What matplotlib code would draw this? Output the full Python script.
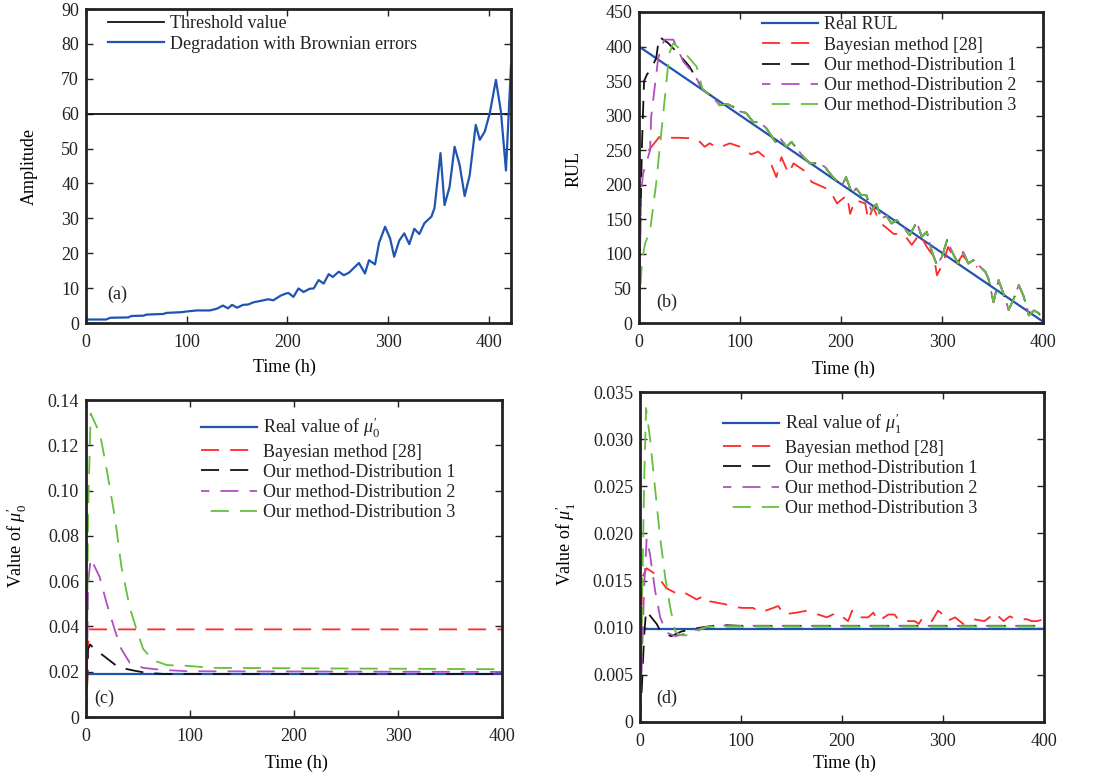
import matplotlib
matplotlib.use("Agg")
import matplotlib.pyplot as plt

plt.rcParams["font.family"] = ["Liberation Serif", "DejaVu Serif"]
plt.rcParams["mathtext.fontset"] = "custom"
plt.rcParams["mathtext.rm"] = "Liberation Serif"
plt.rcParams["mathtext.it"] = "Liberation Serif:italic"
plt.rcParams["lines.scale_dashes"] = False
plt.rcParams["text.color"] = "#222222"

# ---- data: (a) degradation ----
t_a = [0, 20, 24, 42, 45, 57, 60, 77, 80, 95, 100, 110, 123, 130, 136, 141, 145, 150, 156, 161,
       166, 176, 181, 186, 193, 198, 201, 206, 211, 216, 222, 226, 231, 236, 241, 245, 251, 256, 261, 271,
       277, 281, 287, 291, 297, 302, 306, 311, 316, 321, 326, 331, 336, 343, 346, 352, 356, 361, 366, 371,
       376, 381, 387, 391, 396, 401, 407, 412, 417, 422]
amp_a = [1.0, 1.0, 1.5, 1.6, 2.0, 2.1, 2.4, 2.6, 2.9, 3.1, 3.3, 3.6, 3.6, 4.1, 5.0, 4.2, 5.2, 4.4, 5.2, 5.3,
         5.9, 6.5, 6.8, 6.5, 7.8, 8.4, 8.6, 7.5, 9.9, 8.9, 9.8, 9.9, 12.3, 11.3, 14.0, 13.2, 14.7, 13.7, 14.4, 17.2,
         14.2, 18.0, 16.8, 23.0, 27.6, 24.2, 19.0, 23.6, 25.7, 22.6, 27.0, 25.5, 28.6, 30.5, 32.9, 48.7, 33.8, 39.0, 50.5, 45.3,
         36.4, 42.4, 56.8, 52.5, 54.9, 60.2, 69.7, 60.6, 43.7, 73.8]
threshold = 60

# ---- data: (b) RUL ----
t_real_b = [0, 400]
rul_real_b = [400, 2]
t_bayes_b = [0, 2, 7, 20, 27, 40, 57, 65, 70, 78, 90, 100, 111, 118, 130, 136, 141, 148, 153, 163,
             171, 182, 189, 196, 206, 209, 214, 224, 227, 232, 238, 248, 252, 262, 270, 278, 285, 292, 295, 301,
             306, 315, 320, 328, 335]
rul_bayes_b = [0, 236, 245, 269, 268, 268, 267, 255, 260, 253, 260, 255, 244, 248, 233, 211, 240, 216, 231, 221,
               204, 197, 192, 173, 185, 158, 178, 173, 149, 168, 146, 134, 129, 129, 113, 129, 110, 96, 69, 86,
               110, 86, 98, 86, 81]
t_tail_b = [63, 73, 80, 87, 93, 100, 106, 113, 120, 126, 135, 139, 146, 151, 163, 169, 177, 184, 192, 201,
            205, 211, 215, 220, 225, 230, 235, 240, 245, 250, 255, 262, 268, 275, 280, 285, 290, 295, 300, 305,
            311, 316, 321, 326, 331, 338, 343, 346, 351, 356, 361, 366, 371, 376, 381, 386, 391, 396, 400]
rul_tail_b = [338, 327, 315, 317, 313, 306, 304, 291, 290, 282, 262, 269, 255, 262, 240, 231, 231, 226, 211, 199,
              211, 187, 195, 185, 185, 163, 172, 151, 155, 144, 149, 139, 127, 146, 125, 132, 103, 84, 96, 120,
              100, 86, 103, 86, 91, 81, 74, 64, 30, 62, 42, 19, 35, 55, 38, 11, 18, 14, 2]
t_d1_b = [0, 1, 3, 5, 8, 11, 17, 20, 29, 40, 50]
rul_d1_b = [0, 120, 260, 350, 360, 365, 383, 414, 405, 388, 371]
t_d2_b = [0, 2, 4, 11, 12, 19, 25, 34, 44, 55]
rul_d2_b = [0, 187, 216, 250, 298, 383, 410, 410, 378, 359]
t_d3_b = [0, 1, 3, 6, 11, 17, 24, 30, 34, 47, 57]
rul_d3_b = [0, 40, 90, 115, 134, 202, 303, 390, 405, 388, 371]

# ---- data: (c) mu0' ----
t_real_c = [0, 400]
mu0_real = [0.019, 0.019]
t_bayes_c = [0, 1, 2, 3, 400]
mu0_bayes = [0, 0.012, 0.030, 0.0387, 0.0387]
t_d1_c = [0, 1, 2, 4, 8, 17, 31, 46, 58, 75, 400]
mu0_d1 = [0, 0.013, 0.030, 0.032, 0.030, 0.027, 0.022, 0.0205, 0.0195, 0.019, 0.019]
t_d2_c = [0, 1, 2, 4.5, 13, 20, 28, 34, 42, 55, 71, 97, 400]
mu0_d2 = [0, 0.02, 0.059, 0.070, 0.062, 0.050, 0.038, 0.030, 0.024, 0.0217, 0.0209, 0.0202, 0.0199]
t_d3_c = [0, 1, 2, 4.5, 13.5, 20, 28, 34, 42, 49, 55, 65, 78, 97, 122, 400]
mu0_d3 = [0, 0.03, 0.09, 0.134, 0.125, 0.109, 0.0876, 0.0665, 0.0485, 0.038, 0.030, 0.025, 0.0229, 0.0226, 0.0217, 0.0211]

# ---- data: (d) mu1' ----
t_real_d = [0, 400]
mu1_real = [0.0099, 0.0099]
t_bayes_d = [0, 2, 6.6, 16.5, 26, 35, 41, 56, 64, 69, 84, 93, 102, 112, 119, 137, 142, 155, 165, 185,
             195, 206, 210, 215, 226, 231, 236, 246, 252, 257, 272, 276, 280, 289, 295, 300, 304, 312, 320, 330,
             341, 346, 351, 360, 366, 373, 383, 388, 393, 400]
mu1_bayes = [0, 0.0153, 0.0163, 0.0156, 0.0142, 0.0137, 0.0139, 0.0130, 0.0134, 0.0128,
             0.0125, 0.0122, 0.0121, 0.0121, 0.0116, 0.0123, 0.0114, 0.0116, 0.0118, 0.0111,
             0.0116, 0.0107, 0.0118, 0.0111, 0.0111, 0.0116, 0.0107, 0.0114, 0.0114, 0.0107,
             0.0107, 0.0104, 0.0111, 0.0107, 0.0118, 0.0114, 0.0107, 0.0111, 0.0104, 0.0109,
             0.0107, 0.0111, 0.0116, 0.0107, 0.0112, 0.0109, 0.0109, 0.0107, 0.0107, 0.0109]
t_d1_d = [0, 2, 4, 6, 16.5, 21, 31, 41, 59, 79, 99, 400]
mu1_d1 = [0, 0.004, 0.009, 0.0118, 0.0104, 0.0095, 0.0091, 0.0096, 0.0100, 0.0103, 0.0102, 0.0102]
t_d2_d = [0, 2, 4, 6.6, 10, 15, 20, 26, 35, 46, 59, 76, 86, 400]
mu1_d2 = [0, 0.007, 0.014, 0.0195, 0.0177, 0.0139, 0.0111, 0.0095, 0.0091, 0.0094, 0.0099, 0.0103, 0.0102, 0.0102]
t_d3_d = [0, 1, 2, 4, 6, 10, 15, 20, 25, 30, 35, 40, 46, 56, 66, 86, 400]
mu1_d3 = [0, 0.005, 0.012, 0.025, 0.0333, 0.030, 0.0247, 0.0195, 0.0153, 0.0121, 0.0096, 0.0092, 0.0092,
          0.0096, 0.0101, 0.0101, 0.0101]

yt_c = [0, 0.02, 0.04, 0.06, 0.08, 0.10, 0.12, 0.14]
yt_c_lab = ["0", "0.02", "0.04", "0.06", "0.08", "0.10", "0.12", "0.14"]
yt_d = [0, 0.005, 0.010, 0.015, 0.020, 0.025, 0.030, 0.035]
yt_d_lab = ["0", "0.005", "0.010", "0.015", "0.020", "0.025", "0.030", "0.035"]

BLUE = "#1f55b0"
RED = "#ff2a2a"
PURPLE = "#b04fc0"
GREEN = "#66c03a"
BLACK = "#111111"
DASH = (13, 8)
FS = 13

fig = plt.figure(figsize=(10.97, 7.76), dpi=100)


def style(ax):
    for s in ax.spines.values():
        s.set_linewidth(2)
        s.set_color("#222222")
    ax.tick_params(direction="in", top=True, right=True, length=5, width=1,
                   labelsize=FS, colors="#222222")
    ax.tick_params(axis="x", pad=8)
    ax.tick_params(axis="y", pad=5)


def legend(ax, x, y):
    ax.legend(loc="upper left", bbox_to_anchor=(x, y), frameon=False, fontsize=FS,
              handlelength=3.1, handletextpad=0.35, labelspacing=0.18,
              borderpad=0, borderaxespad=0)


# (a)
ax = fig.add_axes([86 / 1097, 1 - 323 / 776, 425 / 1097, 314 / 776])
ax.axhline(threshold, color=BLACK, lw=1.3, label="Threshold value")
ax.plot(t_a, amp_a, color=BLUE, lw=1.6, label="Degradation with Brownian errors")
ax.set_xlim(0, 422)
ax.set_ylim(0, 90)
ax.set_xticks([0, 100, 200, 300, 400])
ax.set_yticks(range(0, 91, 10))
style(ax)
ax.set_xlabel("Time (h)", fontsize=FS)
ax.set_ylabel("Amplitude", fontsize=FS)
ax.xaxis.set_label_coords(0.468, -0.115)
ax.yaxis.set_label_coords(-0.113, 0.497)
ax.text(0.073, 0.092, "(a)", transform=ax.transAxes, fontsize=FS, ha="center", va="center")
legend(ax, 0.052, 0.98)

# (b)
ax = fig.add_axes([639 / 1097, 1 - 323 / 776, 404 / 1097, 311 / 776])
ax.plot(t_real_b, rul_real_b, color=BLUE, lw=1.6, label="Real RUL")
ax.plot(t_bayes_b, rul_bayes_b, color=RED, lw=1.3, ls=(0, DASH), label="Bayesian method [28]")
ax.plot(t_d1_b + t_tail_b, rul_d1_b + rul_tail_b, color=BLACK, lw=1.3, ls=(0, DASH),
        label="Our method-Distribution 1")
ax.plot(t_d2_b + t_tail_b, rul_d2_b + rul_tail_b, color=PURPLE, lw=1.3, ls=(7, DASH),
        label="Our method-Distribution 2")
ax.plot(t_d3_b + t_tail_b, rul_d3_b + rul_tail_b, color=GREEN, lw=1.3, ls=(14, DASH),
        label="Our method-Distribution 3")
ax.set_xlim(0, 400)
ax.set_ylim(0, 450)
ax.set_xticks([0, 100, 200, 300, 400])
ax.set_yticks(range(0, 451, 50))
style(ax)
ax.set_xlabel("Time (h)", fontsize=FS)
ax.set_ylabel("RUL", fontsize=FS)
ax.xaxis.set_label_coords(0.505, -0.12)
ax.yaxis.set_label_coords(-0.141, 0.495)
ax.text(0.069, 0.068, "(b)", transform=ax.transAxes, fontsize=FS, ha="center", va="center")
legend(ax, 0.304, 0.986)

# (c)
ax = fig.add_axes([86 / 1097, 1 - 717 / 776, 416 / 1097, 317 / 776])
ax.plot(t_real_c, mu0_real, color=BLUE, lw=1.6, label=r"Real value of $\mu_0'$")
ax.plot(t_bayes_c, mu0_bayes, color=RED, lw=1.3, ls=(0, DASH), label="Bayesian method [28]")
ax.plot(t_d1_c, mu0_d1, color=BLACK, lw=1.3, ls=(0, DASH), label="Our method-Distribution 1")
ax.plot(t_d2_c, mu0_d2, color=PURPLE, lw=1.3, ls=(7, DASH), label="Our method-Distribution 2")
ax.plot(t_d3_c, mu0_d3, color=GREEN, lw=1.3, ls=(14, DASH), label="Our method-Distribution 3")
ax.set_xlim(0, 400)
ax.set_ylim(0, 0.14)
ax.set_xticks([0, 100, 200, 300, 400])
ax.set_yticks(yt_c, yt_c_lab)
style(ax)
ax.set_xlabel("Time (h)", fontsize=FS)
ax.set_ylabel(r"Value of $\mu_0'$", fontsize=FS)
ax.xaxis.set_label_coords(0.505, -0.118)
ax.yaxis.set_label_coords(-0.137, 0.54)
ax.text(0.043, 0.06, "(c)", transform=ax.transAxes, fontsize=FS, ha="center", va="center")
legend(ax, 0.276, 0.95)

# (d)
ax = fig.add_axes([640 / 1097, 1 - 722 / 776, 404 / 1097, 330 / 776])
ax.plot(t_real_d, mu1_real, color=BLUE, lw=1.6, label=r"Real value of $\mu_1'$")
ax.plot(t_bayes_d, mu1_bayes, color=RED, lw=1.3, ls=(0, DASH), label="Bayesian method [28]")
ax.plot(t_d1_d, mu1_d1, color=BLACK, lw=1.3, ls=(0, DASH), label="Our method-Distribution 1")
ax.plot(t_d2_d, mu1_d2, color=PURPLE, lw=1.3, ls=(7, DASH), label="Our method-Distribution 2")
ax.plot(t_d3_d, mu1_d3, color=GREEN, lw=1.3, ls=(14, DASH), label="Our method-Distribution 3")
ax.set_xlim(0, 400)
ax.set_ylim(0, 0.035)
ax.set_xticks([0, 100, 200, 300, 400])
ax.set_yticks(yt_d, yt_d_lab)
style(ax)
ax.set_xlabel("Time (h)", fontsize=FS)
ax.set_ylabel(r"Value of $\mu_1'$", fontsize=FS)
ax.xaxis.set_label_coords(0.507, -0.1)
ax.yaxis.set_label_coords(-0.153, 0.54)
ax.text(0.067, 0.073, "(d)", transform=ax.transAxes, fontsize=FS, ha="center", va="center")
legend(ax, 0.205, 0.94)

fig.savefig("out.png", dpi=100)
